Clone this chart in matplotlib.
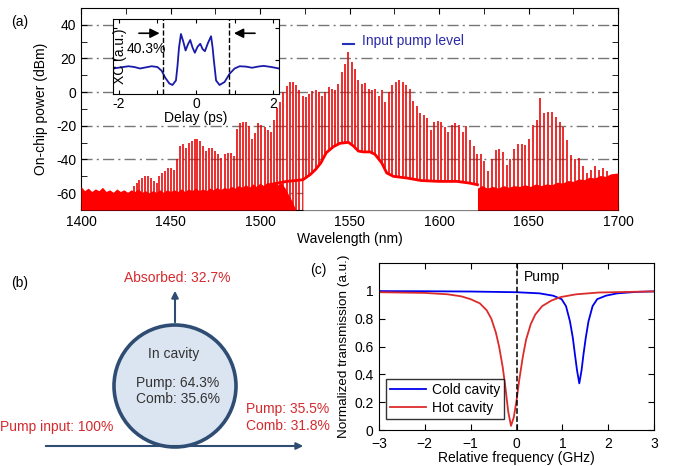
import numpy as np
import matplotlib
matplotlib.use('Agg')
import matplotlib.pyplot as plt
from matplotlib.patches import Circle
from matplotlib.ticker import MultipleLocator, FuncFormatter

plt.rcParams['font.family'] = ['Liberation Sans', 'DejaVu Sans']
plt.rcParams['font.size'] = 10
plt.rcParams['axes.unicode_minus'] = False
plt.rcParams['xtick.direction'] = 'in'
plt.rcParams['ytick.direction'] = 'in'

# ---- (a) comb spectrum ----
PUMP_NM = 1549.4
FSR_THZ = 0.232
C_NM_THZ = 299792.458
comb_mode = np.arange(-70, 72)
comb_peak_dbm = [
    -56, -54, -52, -51, -50, -50, -51, -53, -54, -50,
    -48, -47, -45, -45, -46, -40, -32, -31, -33, -30,
    -29, -28, -28, -29, -32, -35, -33, -33, -35, -37,
    -39, -37, -36, -36, -38, -22, -18.5, -17.5, -18, -20,
    -28, -24, -18.5, -19.5, -20.5, -22.5, -23.5, -16.5, -9.6, -5.7,
    0, 3.9, 5.8, 5.8, 4, 1, -2, -3, -1, 0.5,
    1, 0, -2, 0, 3, 2, 1.5, 5, 12, 17,
    24, 18, 14, 7, 5, 5.5, 2, 1.5, 2, -2,
    1, -6, 0, 4, 6, 7, 6, 4, 2, -5,
    -8, -12.5, -13.5, -15.5, -22.5, -18, -17, -17.5, -20.5, -23.5,
    -19.5, -18.5, -19.5, -23.5, -20, -28.5, -32, -37, -37, -41,
    -47, -40, -34.5, -33.5, -35.5, -43, -40, -33.5, -30.6, -30.6,
    -31.6, -27.6, -19.7, -16.7, -3.6, -12.6, -11.6, -12, -14.6, -17.6,
    -20.5, -28.5, -37.5, -40, -39, -44, -48, -46, -44, -46,
    -45, -47,
]

# noise floor, short wavelength side (solid)
left_noise_nm = [1400, 1402, 1404, 1406, 1408, 1410, 1412, 1414, 1416, 1418,
                 1420, 1422, 1424, 1426, 1428, 1430, 1432, 1434, 1436, 1438,
                 1440, 1442, 1444, 1446, 1448, 1450, 1452, 1454, 1456, 1458,
                 1460, 1462, 1464, 1466, 1468, 1470, 1472, 1474, 1476, 1478,
                 1480, 1482, 1484, 1486, 1488, 1490, 1492, 1494, 1496, 1498,
                 1500, 1502, 1504, 1506, 1508, 1510, 1512, 1514, 1516, 1518, 1520]
left_noise_dbm = [-56, -58.5, -57, -59, -57.5, -58.5, -56.5, -59, -58, -59.5,
                  -57.5, -59, -58, -59.5, -58, -59, -57.5, -59.5, -58.5, -60,
                  -58.5, -59.5, -58, -59.5, -58, -59, -58, -59, -57.5, -59,
                  -57.5, -58.5, -57, -58.5, -57.5, -58.5, -57, -58, -56.5, -58,
                  -56.5, -57.5, -56, -57, -55.5, -56.5, -55, -56.5, -54.5, -56,
                  -54, -55.5, -53.5, -55, -53, -55, -54, -57, -61, -65, -70]

# smooth floor in the middle
floor_nm = [1505, 1510, 1515, 1520, 1524, 1528, 1531, 1534, 1537, 1541,
            1544.6, 1549.4, 1552.2, 1555, 1557.8, 1561.5, 1564.3, 1568, 1570.8, 1574.5,
            1582, 1590, 1600, 1610, 1617, 1621.5]
floor_dbm = [-55, -54, -53, -52.5, -52, -49, -46, -42, -36, -32.4,
             -30.4, -29.8, -32, -35, -35.5, -35.5, -37, -42, -48, -50,
             -51, -52.5, -53, -53, -54, -55]

# noise floor, long wavelength side (solid)
right_noise_nm = [1621.5, 1624, 1627, 1630, 1633, 1636, 1639, 1642, 1645, 1648,
                  1651, 1654, 1657, 1660, 1663, 1666, 1669, 1672, 1675, 1678,
                  1681, 1684, 1687, 1690, 1693, 1696, 1700]
right_noise_dbm = [-57, -55.5, -57, -56, -57, -55.5, -56.5, -55.5, -56, -55,
                   -56, -54.5, -55.5, -54.5, -55, -53.5, -54, -52.5, -53, -51.5,
                   -52, -50.5, -51, -49.5, -50, -48.5, -48]

# inset cross-correlation
xc_delay_ps = [-2.15, -1.95, -1.75, -1.6, -1.45, -1.3, -1.15, -1.0, -0.89, -0.8,
               -0.69, -0.61, -0.52, -0.48, -0.44, -0.39, -0.33, -0.27, -0.21, -0.15,
               -0.09, -0.03, 0.04, 0.11, 0.17, 0.23, 0.31, 0.39, 0.43, 0.46,
               0.52, 0.61, 0.74, 0.87, 1.0, 1.13, 1.3, 1.45, 1.6, 1.75,
               1.95, 2.15]
xc_value = [0.34, 0.355, 0.37, 0.36, 0.34, 0.355, 0.37, 0.36, 0.31, 0.22,
            0.14, 0.12, 0.18, 0.37, 0.62, 0.80, 0.70, 0.58, 0.66, 0.72,
            0.62, 0.55, 0.63, 0.67, 0.60, 0.57, 0.68, 0.77, 0.62, 0.46,
            0.18, 0.12, 0.16, 0.27, 0.34, 0.37, 0.365, 0.35, 0.365, 0.375,
            0.36, 0.34]

# ---- (c) transmission ----
cold_ghz = [-3, -2, -1, 0, 0.5, 0.8, 0.985, 1.08, 1.167, 1.23, 1.276, 1.32, 1.37,
            1.42, 1.46, 1.51, 1.57, 1.66, 1.76, 1.95, 2.2, 2.6, 3]
cold_T = [0.998, 0.997, 0.995, 0.99, 0.982, 0.965, 0.94, 0.89, 0.78, 0.66, 0.54, 0.43, 0.335,
          0.43, 0.54, 0.66, 0.78, 0.89, 0.94, 0.965, 0.982, 0.992, 0.996]
hot_ghz = [-3, -2, -1.5, -1.2, -1.0, -0.8, -0.65, -0.55, -0.45, -0.38, -0.3, -0.24, -0.18,
           -0.12, -0.06, 0.0, 0.06, 0.14, 0.21, 0.31, 0.41, 0.56, 0.76, 0.96, 1.3, 1.8, 3]
hot_T = [0.99, 0.985, 0.975, 0.96, 0.94, 0.91, 0.86, 0.8, 0.7, 0.6, 0.45, 0.3, 0.13,
         0.03, 0.09, 0.21, 0.36, 0.53, 0.65, 0.76, 0.83, 0.89, 0.93, 0.955, 0.975, 0.988, 0.996]

W, H = 673, 466
fig = plt.figure(figsize=(W / 100, H / 100), dpi=100)

def px_axes(x0, y0, x1, y1):
    return fig.add_axes([x0 / W, 1 - y1 / H, (x1 - x0) / W, (y1 - y0) / H])

# ---------------- panel (a)
ax = px_axes(81, 8, 618, 210)
comb_nm = C_NM_THZ / (C_NM_THZ / PUMP_NM - comb_mode * FSR_THZ)
ax.vlines(comb_nm, -70, comb_peak_dbm, color='#e60000', lw=1.15, zorder=2)
ax.fill_between(left_noise_nm, -70, left_noise_dbm, color='#ff0000', lw=0, zorder=3)
mid = [i for i, w in enumerate(floor_nm) if w >= 1524]
ax.fill_between([floor_nm[i] for i in mid], -70, [floor_dbm[i] for i in mid],
                color='white', lw=0, zorder=3)
ax.plot(floor_nm, floor_dbm, color='#ff0000', lw=2, zorder=4)
ax.fill_between(right_noise_nm, -70, right_noise_dbm, color='#ff0000', lw=0, zorder=3)
ax.plot([1546.4, 1552.5], [28.5, 28.5], color='#2233bb', lw=1.5, zorder=5)
ax.text(1556.8, 30.5, 'Input pump level', color='#2a2aa8', va='center', ha='left', zorder=5)

ax.set_xlim(1400, 1700)
ax.set_ylim(-70, 50)
ax.xaxis.set_major_locator(MultipleLocator(50))
ax.xaxis.set_minor_locator(MultipleLocator(25))
ax.yaxis.set_major_locator(MultipleLocator(20))
ax.yaxis.set_minor_locator(MultipleLocator(10))
ax.set_yticks([-60, -40, -20, 0, 20, 40])
ax.tick_params(which='both', top=True, right=True, length=4)
ax.grid(axis='y', which='major', color='#777777', ls=(0, (8, 3, 1.5, 3)), lw=1)
ax.set_axisbelow(True)
ax.set_xlabel('Wavelength (nm)', labelpad=2)
ax.set_ylabel('On-chip power (dBm)', labelpad=6)
fig.text(20 / W, 1 - 22 / H, '(a)', ha='center', va='center')

# inset
axi = px_axes(113, 19, 279, 94)
axi.set_zorder(10)
axi.set_facecolor('white')
axi.plot(xc_delay_ps, xc_value, color='#1a1aaa', lw=1.3)
axi.axvline(-0.85, color='black', ls='--', lw=1)
axi.axvline(0.85, color='black', ls='--', lw=1)
axi.annotate('', xy=(-0.87, 0.81), xytext=(-1.55, 0.81),
             arrowprops=dict(arrowstyle='-|>', color='black', lw=1.2, mutation_scale=14))
axi.annotate('', xy=(0.91, 0.81), xytext=(1.6, 0.81),
             arrowprops=dict(arrowstyle='-|>', color='black', lw=1.2, mutation_scale=14))
axi.text(0.042, 0.5, 'XC (a.u.)', rotation=90, ha='center', va='center',
         transform=axi.transAxes)
axi.text(-1.8, 0.6, '40.3%', ha='left', va='center')
axi.set_xlim(-2.15, 2.15)
axi.set_ylim(0, 1)
axi.set_xticks([-2, -1, 0, 1, 2])
axi.set_xticklabels(['-2', '', '0', '', '2'])
axi.set_yticks([0.45, 0.88])
axi.set_yticklabels([])
axi.tick_params(top=True, right=True, length=3, pad=2)
axi.set_xlabel('Delay (ps)', labelpad=0)

# ---------------- panel (b)
axb = fig.add_axes([0, 0, 330 / W, 216 / H])
axb.set_xlim(0, 330)
axb.set_ylim(466, 250)
axb.axis('off')
navy = '#2f4d73'
red_txt = '#d42a2e'
axb.add_patch(Circle((175, 386), 61, facecolor='#dbe5f1', edgecolor=navy, lw=2.6, zorder=2))
axb.annotate('', xy=(175, 288), xytext=(175, 325),
             arrowprops=dict(arrowstyle='-|>', color=navy, lw=1.5, mutation_scale=10))
axb.annotate('', xy=(306, 446), xytext=(43, 446),
             arrowprops=dict(arrowstyle='-|>', color=navy, lw=1.5, mutation_scale=10))
axb.text(20, 283, '(b)', ha='center', va='center')
axb.text(177, 278, 'Absorbed: 32.7%', color=red_txt, ha='center', va='center')
axb.text(174, 354, 'In cavity', color='#333333', ha='center', va='center', zorder=3)
axb.text(178, 383, 'Pump: 64.3%', color='#333333', ha='center', va='center', zorder=3)
axb.text(178, 399, 'Comb: 35.6%', color='#333333', ha='center', va='center', zorder=3)
axb.text(0, 427, 'Pump input: 100%', color=red_txt, ha='left', va='center')
axb.text(246, 409, 'Pump: 35.5%', color=red_txt, ha='left', va='center')
axb.text(246, 426, 'Comb: 31.8%', color=red_txt, ha='left', va='center')

# ---------------- panel (c)
axc = px_axes(379, 263, 654, 430)
axc.plot(cold_ghz, cold_T, color='#0000ee', lw=1.3, label='Cold cavity')
axc.plot(hot_ghz, hot_T, color='#dd2b2b', lw=1.3, label='Hot cavity')
axc.axvline(0, color='black', ls='--', lw=1.1)
axc.text(0.17, 1.1, 'Pump', ha='left', va='center')
axc.set_xlim(-3, 3)
axc.set_ylim(0, 1.2)
axc.set_xticks(range(-3, 4))
axc.set_yticks([0, 0.2, 0.4, 0.6, 0.8, 1.0])
axc.xaxis.set_major_formatter(FuncFormatter(lambda v, p: f'{v:g}'.replace('-', '\u2212')))
axc.yaxis.set_major_formatter(FuncFormatter(lambda v, p: f'{v:g}'))
axc.tick_params(axis='x', top=True, length=4, pad=5)
axc.tick_params(axis='y', right=True, length=4, pad=4)
axc.set_xlabel('Relative frequency (GHz)', labelpad=0)
axc.set_ylabel('Normalized transmission (a.u.)', labelpad=3, fontsize=9.7)
leg = axc.legend(loc='lower left', bbox_to_anchor=(0.025, 0.065), borderaxespad=0,
                 fancybox=False, edgecolor='black', handlelength=2.6,
                 borderpad=0.3, labelspacing=0.3, handletextpad=0.4)
leg.get_frame().set_linewidth(1)
fig.text(318 / W, 1 - 270 / H, '(c)', ha='center', va='center')

fig.savefig('out.png', dpi=100)
